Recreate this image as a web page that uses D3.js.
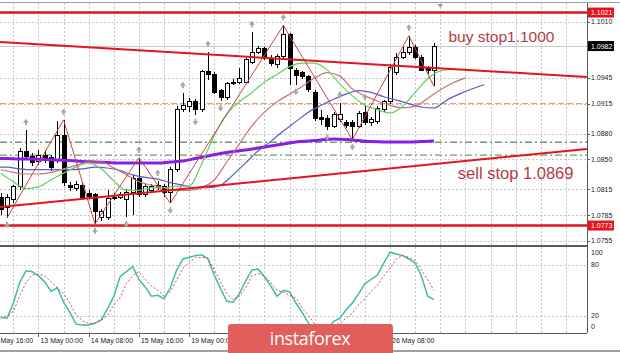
<!DOCTYPE html>
<html>
<head>
<meta charset="utf-8">
<script src="https://cdn.jsdelivr.net/npm/d3@7"></script>
<style>
  html, body { margin: 0; padding: 0; background: #fff; }
  svg { display: block; font-family: "Liberation Sans", Arial, sans-serif; }
</style>
</head>
<body>
<div id="chart"></div>
<script>
const W = 620, H = 353;
const plotRight = 587;
const mainTop = 3, mainBottom = 246;
const stochTop = 247, stochBottom = 333;

// EURUSD H4 candles, bar 0 = 12 May 00:00 ... bar 69 = 27 May 12:00
const open = [1.0806,1.0794,1.0803,1.0818,1.0859,1.0853,1.0847,1.0855,1.0852,1.0849,
  1.0878,1.0820,1.0816,1.0820,1.0810,1.0809,1.0782,1.0782,1.0806,1.0806,
  1.0803,1.0811,1.0828,1.0809,1.0814,1.0817,1.0818,1.0812,1.0838,1.0908,
  1.0912,1.0918,1.0908,1.0952,1.0949,1.0930,1.0922,1.0940,1.0940,1.0940,
  1.0963,1.0975,1.0979,1.0968,1.0961,1.0970,1.0995,1.0954,1.0951,1.0946,
  1.0928,1.0899,1.0898,1.0888,1.0896,1.0893,1.0893,1.0888,1.0905,1.0893,
  1.0894,1.0908,1.0917,1.0951,1.0969,1.0974,1.0980,1.0969,1.0956,1.0954];
const high = [1.0811,1.0810,1.0820,1.0863,1.0884,1.0857,1.0861,1.0861,1.0855,1.0895,
  1.0896,1.0824,1.0825,1.0823,1.0814,1.0811,1.0792,1.0814,1.0811,1.0812,
  1.0816,1.0832,1.0852,1.0821,1.0821,1.0825,1.0821,1.0841,1.0912,1.0927,
  1.0922,1.0920,1.0954,1.0975,1.0952,1.0932,1.0940,1.0944,1.0957,1.0968,
  1.0998,1.0982,1.0981,1.0972,1.0973,1.1006,1.0997,1.0956,1.0953,1.0948,
  1.0931,1.0908,1.0902,1.0905,1.0916,1.0896,1.0896,1.0906,1.0913,1.0899,
  1.0912,1.0919,1.0961,1.0974,1.0981,1.0994,1.0983,1.0972,1.0959,1.0986];
const low = [1.0785,1.0782,1.0799,1.0814,1.0849,1.0842,1.0844,1.0846,1.0837,1.0846,
  1.0819,1.0813,1.0813,1.0804,1.0804,1.0775,1.0778,1.0780,1.0803,1.0804,
  1.0783,1.0785,1.0806,1.0806,1.0812,1.0814,1.0806,1.0799,1.0835,1.0905,
  1.0905,1.0902,1.0905,1.0943,1.0926,1.0918,1.0919,1.0937,1.0938,1.0938,
  1.0961,1.0973,1.0966,1.0959,1.0957,1.0968,1.0937,1.0937,1.0944,1.0928,
  1.0895,1.0890,1.0884,1.0886,1.0893,1.0887,1.0873,1.0886,1.0890,1.0889,
  1.0891,1.0905,1.0914,1.0948,1.0967,1.0972,1.0967,1.0953,1.0949,1.0935];
const close = [1.0792,1.0806,1.0818,1.0859,1.0853,1.0846,1.0855,1.0849,1.0841,1.0878,
  1.0823,1.0817,1.0821,1.0806,1.0807,1.0789,1.0789,1.0805,1.0805,1.0809,
  1.0811,1.0828,1.0809,1.0818,1.0818,1.0820,1.0812,1.0838,1.0908,1.0913,
  1.0918,1.0908,1.0952,1.0949,1.0928,1.0922,1.0938,1.0940,1.0944,1.0966,
  1.0975,1.0979,1.0968,1.0962,1.0970,1.0995,1.0956,1.0948,1.0947,1.0931,
  1.0898,1.0897,1.0888,1.0902,1.0902,1.0889,1.0888,1.0904,1.0893,1.0896,
  1.0909,1.0917,1.0957,1.0969,1.0975,1.0980,1.0969,1.0954,1.0954,1.0982];

// alligator lines, read every 2nd bar (they run past the last candle)
const lipsStart = 0;
const lips = [1.0834,1.0824,1.0816,1.0818,1.0826,1.0834,1.0841,1.0846,1.0839,1.0825,
  1.0814,1.0814,1.0817,1.0817,1.0819,1.0819,1.0845,1.0878,1.0903,1.0917,
  1.0928,1.0940,1.0949,1.0958,1.0962,1.0962,1.0954,1.0938,1.0924,1.0913,
  1.0908,1.0904,1.0912,1.0928,1.0944,1.0953,1.0955];
const teethStart = 0;
const teeth = [1.0838,1.0835,1.0833,1.0833,1.0835,1.0839,1.0843,1.0847,1.0847,1.0840,
  1.0832,1.0824,1.0820,1.0817,1.0814,1.0814,1.0817,1.0826,1.0847,1.0868,
  1.0889,1.0905,1.0917,1.0926,1.0935,1.0945,1.0951,1.0947,1.0932,1.0924,
  1.0918,1.0913,1.0910,1.0912,1.0921,1.0931,1.0939,1.0945];
const jawStart = -1;
const jaw = [1.0841,1.0841,1.0839,1.0838,1.0838,1.0838,1.0838,1.0839,1.0841,1.0840,
  1.0837,1.0832,1.0829,1.0827,1.0823,1.0820,1.0817,1.0817,1.0820,1.0832,
  1.0846,1.0860,1.0871,1.0883,1.0894,1.0905,1.0913,1.0920,1.0926,1.0930,
  1.0928,1.0923,1.0919,1.0915,1.0911,1.0910,1.0919,1.0926,1.0932,1.0937];
// thick purple moving average
const maStart = -1;
const ma = [1.08510,1.08510,1.08505,1.08505,1.08499,1.08493,1.08487,1.08476,1.08470,1.08464,
  1.08458,1.08458,1.08458,1.08458,1.08470,1.08481,1.08510,1.08540,1.08569,1.08592,
  1.08610,1.08633,1.08656,1.08679,1.08703,1.08714,1.08726,1.08738,1.08732,1.08720,
  1.08708,1.08703,1.08703,1.08703,1.08708,1.08714];

const zigzagBars = [1, 10, 15, 22, 27, 45, 56, 65, 69]; // low, high, low, ...
const fractalUp = [4, 10, 22, 25, 29, 33, 40, 45, 54, 58, 65];
const fractalDown = [1, 15, 20, 27, 31, 35, 47, 52, 56];

const stochMain = [18,17,35,59,73,72,67,60,49,53, 36,24,10,9,9,11,15,28,43,66,
  72,78,63,54,43,44,40,53,74,87, 89,91,92,87,68,52,37,36,46,61,
  74,75,66,55,43,50,48,35,24,11, 3,2,4,13,17,27,35,46,58,63,
  68,82,95,93,91,87,82,67,43,39];
const stochSignal = [17,20,25,43,59,68,69,67,60,53, 46,35,21,14,11,11,15,20,33,41,
  58,67,72,63,55,50,43,48,62,76, 83,89,89,88,74,60,46,39,43,53,
  67,70,67,59,50,48,44,41,29,20, 10,4,4,8,11,17,23,33,40,49,
  56,67,76,87,91,89,85,74,62,50];

const priceTicks = [1.1010, 1.0945, 1.0915, 1.0880, 1.0850, 1.0815, 1.0785, 1.0755];
const stochTicks = [100, 80, 20, 0];
const stochLevels = [80, 20];
// time labels that are not hidden under the logo (first one is cut by the left edge)
const timeBars = [-2, 6, 14, 22, 30, 62];
const timeLabels = ["May 16:00", "13 May 00:00", "14 May 08:00", "15 May 16:00", "19 May 00:00", "26 May 08:00"];

const redLevels = [1.1021, 1.0773];
const bidPrice = 1.0982;
const orangeLevel = 1.0915;
const greenLevels = [1.0870, 1.0855];
const trendDown = [[-0.13, 1.09867], [93.34, 1.09459]];
const trendUp = [[-0.13, 1.07946], [93.34, 1.08621]];
const notes = [{text: "buy stop1.1000", bar: 71.3, price: 1.0987, size: 15.5},
               {text: "sell stop 1.0869", bar: 72.8, price: 1.0827, size: 16.5}];

// scales
const x = d3.scaleLinear().domain([0, 69]).range([0.8, 434]);
const y = d3.scaleLinear().domain([1.0755, 1.1010]).range([241, 22]);
const ys = d3.scaleLinear().domain([0, 100]).range([332.6, 248]);

const svg = d3.select("#chart").append("svg")
    .attr("width", W).attr("height", H)
    .attr("viewBox", [0, 0, W, H]);

svg.append("rect").attr("width", W).attr("height", H).attr("fill", "#fff");

const defs = svg.append("defs");
defs.append("clipPath").attr("id", "clipMain")
  .append("rect").attr("x", 0).attr("y", mainTop).attr("width", plotRight).attr("height", mainBottom - mainTop);
defs.append("clipPath").attr("id", "clipStoch")
  .append("rect").attr("x", 0).attr("y", stochTop).attr("width", plotRight).attr("height", stochBottom - stochTop);

// grid
const gridX = d3.range(2, 94, 4).map(b => Math.round(x(b)) + 0.5);
const grid = svg.append("g")
    .attr("stroke", "#c4c4c4")
    .attr("stroke-dasharray", "2,2")
    .attr("stroke-width", 1);
grid.selectAll("line.vm").data(gridX).join("line")
    .attr("x1", d => d).attr("x2", d => d)
    .attr("y1", mainTop).attr("y2", mainBottom);
grid.selectAll("line.vs").data(gridX).join("line")
    .attr("x1", d => d).attr("x2", d => d)
    .attr("y1", stochTop).attr("y2", stochBottom);
grid.selectAll("line.h").data(priceTicks).join("line")
    .attr("x1", 0).attr("x2", plotRight)
    .attr("y1", d => Math.round(y(d)) + 0.5).attr("y2", d => Math.round(y(d)) + 0.5);
grid.selectAll("line.s").data(stochLevels).join("line")
    .attr("x1", 0).attr("x2", plotRight)
    .attr("y1", d => Math.round(ys(d)) + 0.5).attr("y2", d => Math.round(ys(d)) + 0.5);

const main = svg.append("g").attr("clip-path", "url(#clipMain)");

// horizontal objects
main.append("line")
    .attr("x1", 0).attr("x2", plotRight)
    .attr("y1", Math.round(y(bidPrice)) + 0.5).attr("y2", Math.round(y(bidPrice)) + 0.5)
    .attr("stroke", "#c8c8c8");
main.append("line")
    .attr("x1", 0).attr("x2", plotRight)
    .attr("y1", y(orangeLevel)).attr("y2", y(orangeLevel))
    .attr("stroke", "#e09868").attr("stroke-dasharray", "6,3");
main.selectAll("line.gl").data(greenLevels).join("line")
    .attr("x1", 0).attr("x2", plotRight)
    .attr("y1", d => y(d)).attr("y2", d => y(d))
    .attr("stroke", "#6e9e6e").attr("stroke-width", 1.3)
    .attr("stroke-dasharray", "7,3,2,3");

// candles
const bars = d3.range(open.length);
const candles = main.append("g").attr("shape-rendering", "crispEdges");
candles.selectAll("line").data(bars).join("line")
    .attr("x1", i => Math.round(x(i)) + 0.5).attr("x2", i => Math.round(x(i)) + 0.5)
    .attr("y1", i => y(high[i])).attr("y2", i => y(low[i]))
    .attr("stroke", "#000");
candles.selectAll("rect").data(bars).join("rect")
    .attr("x", i => Math.round(x(i)) - 1.5)
    .attr("width", 4)
    .attr("y", i => y(Math.max(open[i], close[i])))
    .attr("height", i => Math.max(1, Math.abs(y(open[i]) - y(close[i]))))
    .attr("fill", i => close[i] >= open[i] ? "#fff" : "#000")
    .attr("stroke", "#000");

// moving averages
const line = d3.line().x(d => x(d[0])).y(d => y(d[1])).curve(d3.curveMonotoneX);
const pairs = (arr, start) => arr.map((v, i) => [start + 2 * i, v]);

main.append("path").attr("d", line(pairs(ma, maStart)))
    .attr("fill", "none").attr("stroke", "#8a1ee4").attr("stroke-width", 3);
main.append("path").attr("d", line(pairs(jaw, jawStart)))
    .attr("fill", "none").attr("stroke", "#5c5cc8").attr("stroke-width", 1.2);
main.append("path").attr("d", line(pairs(teeth, teethStart)))
    .attr("fill", "none").attr("stroke", "#c87474").attr("stroke-width", 1.2);
main.append("path").attr("d", line(pairs(lips, lipsStart)))
    .attr("fill", "none").attr("stroke", "#62d062").attr("stroke-width", 1.2);

// zigzag
const zz = zigzagBars.map((b, k) => [b, k % 2 === 0 ? low[b] : high[b]]);
main.append("path")
    .attr("d", d3.line().x(d => x(d[0])).y(d => y(d[1]))(zz))
    .attr("fill", "none").attr("stroke", "#c24848").attr("stroke-width", 1);

// trend lines and levels
const straight = d3.line().x(d => x(d[0])).y(d => y(d[1]));
[trendDown, trendUp].forEach(t => {
  main.append("path").attr("d", straight(t))
      .attr("fill", "none").attr("stroke", "#e4141c").attr("stroke-width", 2);
});
main.selectAll("line.red").data(redLevels).join("line")
    .attr("x1", 0).attr("x2", plotRight)
    .attr("y1", d => y(d)).attr("y2", d => y(d))
    .attr("stroke", "#e4141c").attr("stroke-width", 2.5);

// fractals
const arrowUp = "M0,-3.5 L3,0.5 L1,0.5 L1,3 L-1,3 L-1,0.5 L-3,0.5 Z";
const arrowDown = "M0,3.5 L3,-0.5 L1,-0.5 L1,-3 L-1,-3 L-1,-0.5 L-3,-0.5 Z";
main.selectAll("path.fu").data(fractalUp).join("path")
    .attr("d", arrowUp)
    .attr("transform", b => `translate(${x(b)},${y(high[b]) - 8})`)
    .attr("fill", "#a8a8a8");
main.selectAll("path.fd").data(fractalDown).join("path")
    .attr("d", arrowDown)
    .attr("transform", b => `translate(${x(b)},${y(low[b]) + 7})`)
    .attr("fill", "#a8a8a8");

// chart shift marker
svg.append("path").attr("d", "M-3,0 L3,0 L0,4 Z")
    .attr("transform", `translate(${x(70)},4)`).attr("fill", "#a0a0a0");

// notes
main.selectAll("text.note").data(notes).join("text")
    .attr("x", d => x(d.bar)).attr("y", d => y(d.price))
    .attr("font-size", d => d.size)
    .attr("fill", "#b43a46")
    .text(d => d.text);

// stochastic
const stoch = svg.append("g").attr("clip-path", "url(#clipStoch)");
const sline = d3.line().x((d, i) => x(i)).y(d => ys(d));
stoch.append("path").attr("d", sline(stochMain))
    .attr("fill", "none").attr("stroke", "#3cbcaa").attr("stroke-width", 1.5);
stoch.append("path").attr("d", sline(stochSignal))
    .attr("fill", "none").attr("stroke", "#e04848").attr("stroke-width", 1)
    .attr("stroke-dasharray", "2,2");

// frames
const frame = svg.append("g").attr("stroke", "#5a5a5a").attr("shape-rendering", "crispEdges");
frame.append("line").attr("x1", 0).attr("x2", W).attr("y1", 2.5).attr("y2", 2.5).attr("stroke", "#a0a0a0").attr("stroke-width", 1.5);
frame.append("line").attr("x1", plotRight + 0.5).attr("x2", plotRight + 0.5).attr("y1", mainTop).attr("y2", stochBottom);
frame.append("line").attr("x1", 0).attr("x2", plotRight).attr("y1", mainBottom).attr("y2", mainBottom).attr("stroke-width", 2);
frame.append("line").attr("x1", 0).attr("x2", plotRight).attr("y1", stochBottom + 0.5).attr("y2", stochBottom + 0.5);
frame.append("line").attr("x1", 0).attr("x2", W).attr("y1", 350.5).attr("y2", 350.5).attr("stroke", "#a0a0a0").attr("stroke-width", 2);

// price axis
const axisG = svg.append("g").attr("font-size", 7).attr("fill", "#222");
axisG.selectAll("line").data(priceTicks).join("line")
    .attr("x1", plotRight).attr("x2", plotRight + 3)
    .attr("y1", d => Math.round(y(d)) + 0.5).attr("y2", d => Math.round(y(d)) + 0.5)
    .attr("stroke", "#5a5a5a");
axisG.selectAll("text").data(priceTicks).join("text")
    .attr("x", 591).attr("y", d => y(d)).attr("dy", "0.35em")
    .text(d => d.toFixed(4));

// price boxes
const boxes = [{p: redLevels[0], fill: "#e4141c"}, {p: redLevels[1], fill: "#e4141c"}, {p: bidPrice, fill: "#000"}];
const boxG = svg.append("g").selectAll("g").data(boxes).join("g")
    .attr("transform", d => `translate(${plotRight + 1},${y(d.p)})`);
boxG.append("rect").attr("x", 0).attr("y", -5).attr("width", 26).attr("height", 10).attr("fill", d => d.fill);
boxG.append("text").attr("x", 3).attr("dy", "0.35em").attr("font-size", 7).attr("fill", "#fff")
    .text(d => d.p.toFixed(4));

// stochastic axis
svg.append("g").attr("font-size", 7).attr("fill", "#222")
  .selectAll("text").data(stochTicks).join("text")
    .attr("x", 591).attr("y", d => Math.min(327, Math.max(253, ys(d)))).attr("dy", "0.35em")
    .text(d => d);

// time axis
const timeG = svg.append("g").attr("font-size", 7).attr("fill", "#222");
timeG.selectAll("line").data(timeBars.slice(1)).join("line")
    .attr("x1", b => Math.round(x(b)) + 0.5).attr("x2", b => Math.round(x(b)) + 0.5)
    .attr("y1", stochBottom).attr("y2", stochBottom + 4)
    .attr("stroke", "#5a5a5a");
timeG.selectAll("text").data(timeBars).join("text")
    .attr("x", (b, i) => i === 0 ? 0.5 : x(b) + 2).attr("y", 343)
    .text((b, i) => timeLabels[i]);

// logo
const logo = svg.append("g");
logo.append("rect").attr("x", 228).attr("y", 324).attr("width", 165).attr("height", 33).attr("rx", 3)
    .attr("fill", "#e25e5c");
logo.append("text").attr("x", 310).attr("y", 345).attr("text-anchor", "middle")
    .attr("font-family", "'Open Sans', sans-serif").attr("font-size", 18).attr("fill", "#fff")
    .attr("letter-spacing", -0.4)
    .text("instaforex");
</script>
</body>
</html>
